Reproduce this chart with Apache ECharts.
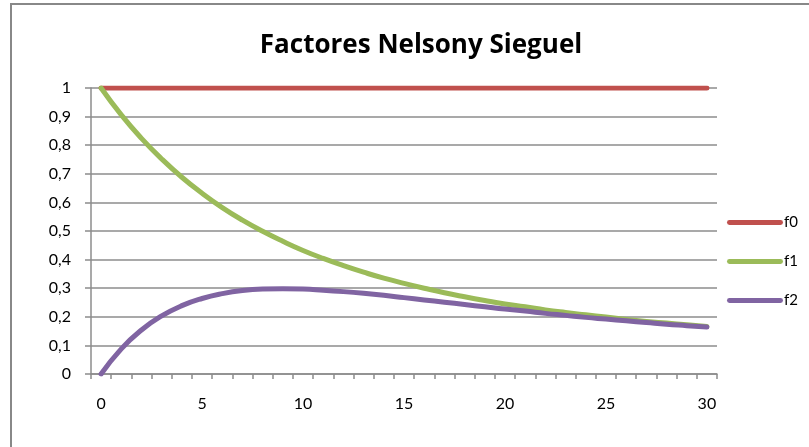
<!DOCTYPE html>
<html><head><meta charset="utf-8">
<script src="https://cdn.jsdelivr.net/npm/echarts@6/dist/echarts.min.js"></script>
<style>html,body{margin:0;padding:0;background:#fff}#c{width:809px;height:447px}</style>
</head><body><div id="c"></div>
<script>
const categories = [0,1,2,3,4,5,6,7,8,9,10,11,12,13,14,15,16,17,18,19,20,21,22,23,24,25,26,27,28,29,30];
const f0 = [1,1,1,1,1,1,1,1,1,1,1,1,1,1,1,1,1,1,1,1,1,1,1,1,1,1,1,1,1,1,1];
const f1 = [1,0.906,0.824,0.752,0.688,0.632,0.582,0.538,0.499,0.464,0.432,0.404,0.379,0.356,0.335,0.317,0.300,0.284,0.270,0.257,0.245,0.235,0.224,0.215,0.207,0.199,0.191,0.184,0.178,0.172,0.166];
const f2 = [0,0.088,0.154,0.203,0.239,0.264,0.281,0.292,0.297,0.298,0.297,0.293,0.288,0.282,0.275,0.267,0.259,0.251,0.243,0.235,0.227,0.220,0.212,0.205,0.198,0.192,0.186,0.180,0.174,0.169,0.164];
const yTicks = [0,0.1,0.2,0.3,0.4,0.5,0.6,0.7,0.8,0.9,1];
const seriesNames = ['f0','f1','f2'];
const colors = ['#C0504D','#9BBB59','#8064A2'];
const font = 'Lato, "Open Sans", sans-serif';
const chart = echarts.init(document.getElementById('c'));
chart.setOption({
  animation:false,
  backgroundColor:'#fff',
  title:{text:'Factores Nelsony Sieguel',left:416,textAlign:'center',top:28,
    textStyle:{fontFamily:'"Open Sans", sans-serif',fontWeight:'bold',fontSize:26,color:'#000'}},
  graphic:[{type:'rect',shape:{x:11,y:4,width:820,height:470},style:{fill:'none',stroke:'#888',lineWidth:2},silent:true}],
  grid:{left:91,right:92,top:88,bottom:73},
  legend:{orient:'vertical',left:722,top:210,itemWidth:56,itemHeight:14,itemGap:24,
    icon:'path://M2,0 L54,0 A2,2 0 0 1 54,5 L2,5 A2,2 0 0 1 2,0 Z',
    textStyle:{fontFamily:font,fontSize:15,color:'#000',padding:[0,0,0,-4]},
    data:seriesNames},
  xAxis:{type:'category',data:categories,boundaryGap:true,
    axisLine:{lineStyle:{color:'#8c8c8c',width:1.5}},
    axisTick:{show:true,interval:0,length:5,lineStyle:{color:'#8c8c8c',width:1.5}},
    axisLabel:{interval:4,margin:22,fontFamily:font,fontSize:16,color:'#000'},
    splitLine:{show:false}},
  yAxis:{type:'value',min:0,max:1,interval:0.1,
    axisLine:{show:true,lineStyle:{color:'#8c8c8c',width:1.5}},
    axisTick:{show:true,length:6,lineStyle:{color:'#8c8c8c',width:1.5}},
    axisLabel:{margin:20,fontFamily:font,fontSize:16,color:'#000',
      formatter:v=>{const t=yTicks.find(x=>Math.abs(x-v)<1e-6);return String(Math.round((t!==undefined?t:v)*10)/10).replace('.',',');}},
    splitLine:{show:true,lineStyle:{color:'#8c8c8c',width:1.5}}},
  series:[f0,f1,f2].map((d,i)=>({name:seriesNames[i],type:'line',data:d,smooth:true,symbol:'none',
    lineStyle:{width:5,color:colors[i],cap:'round'},itemStyle:{color:colors[i]}}))
});
</script></body></html>
